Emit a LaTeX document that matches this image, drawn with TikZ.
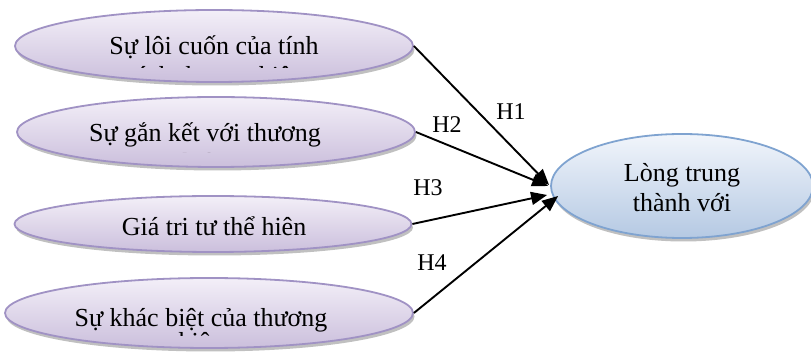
\documentclass[tikz,border=0pt]{standalone}
\usepackage{fontspec}
\setmainfont{Liberation Serif}
\usetikzlibrary{shapes.geometric,shadows,arrows.meta,calc}

\definecolor{lavtop}{HTML}{F3EFF8}
\definecolor{lavbot}{HTML}{CBBFDC}
\definecolor{lavline}{HTML}{A092C4}
\definecolor{bluetop}{HTML}{F1F5FB}
\definecolor{bluebot}{HTML}{B5C9E3}
\definecolor{blueline}{HTML}{7FA3D0}

\tikzset{
  factor/.style={ellipse, inner sep=0pt, draw=lavline, line width=1.8pt,
    top color=lavtop, bottom color=lavbot,
    drop shadow={shadow xshift=1.5pt, shadow yshift=-3.5pt, opacity=0.45, fill=black!55}},
  outcome/.style={ellipse, inner sep=0pt, draw=blueline, line width=1.8pt,
    top color=bluetop, bottom color=bluebot,
    drop shadow={shadow xshift=1.5pt, shadow yshift=-3.5pt, opacity=0.45, fill=black!55}},
  caption/.style={font=\fontsize{26}{30}\selectfont, inner sep=0pt, anchor=base},
  hlabel/.style={font=\fontsize{24}{28}\selectfont, inner sep=0pt},
  link/.style={line width=1.9pt, -{Triangle[length=16pt,width=13pt]}}
}

\begin{document}
\begin{tikzpicture}[x=1pt, y=-1pt]
  \useasboundingbox (0,0) rectangle (811,352);

  % factor ellipses
  \node[factor, minimum width=398pt, minimum height=72pt] (e1) at (214,46) {};
  \node[factor, minimum width=398pt, minimum height=70pt] (e2) at (216,132) {};
  \node[factor, minimum width=397pt, minimum height=56pt] (e3) at (213,224) {};
  \node[factor, minimum width=408pt, minimum height=70pt] (e4) at (209,313) {};

  % outcome ellipse
  \node[outcome, minimum width=262pt, minimum height=104pt] (r) at (682,186) {};

  % captions; second lines are cut off by the text frames
  \node[caption] (t1a) at (214,55) {Sự lôi cuốn của tính};
  \begin{scope}
    \clip (0,0) rectangle (420,68);
    \node[caption] (t1b) at (214,85) {cách thương hiệu};
  \end{scope}

  \node[caption] (t2a) at (205,142) {Sự gắn kết với thương};
  \begin{scope}
    \clip (0,100) rectangle (420,153);
    \node[caption] (t2b) at (205,172) {hiệu};
  \end{scope}

  \node[caption] (t3) at (214,236) {Giá tri tư thể hiên};

  \node[caption] (t4a) at (201,327) {Sự khác biệt của thương};
  \begin{scope}
    \clip (0,280) rectangle (420,336);
    \node[caption] (t4b) at (201,351) {hiệu};
  \end{scope}

  \node[caption] (ra) at (682,182) {Lòng trung};
  \node[caption] (rb) at (682,212) {thành với};

  % arrow tips on the outcome ellipse
  \coordinate (p1) at ($(r.west)+(-1,-1)$);
  \coordinate (p2) at ($(r.west)+(-2,0)$);
  \coordinate (p3) at ($(r.west)+(-3,9)$);
  \coordinate (p4) at ($(r.west)+(8,10)$);

  \draw[link] (e1.east) -- (p1);
  \draw[link] (e2.east) -- (p2);
  \draw[link] (e3.east) -- (p3);
  \draw[link] (e4.east) -- (p4);

  % hypothesis labels
  \node[hlabel] (h1) at (511,112) {H1};
  \node[hlabel] (h2) at (447,125) {H2};
  \node[hlabel] (h3) at (428,188) {H3};
  \node[hlabel] (h4) at (432,263) {H4};
\end{tikzpicture}
\end{document}
